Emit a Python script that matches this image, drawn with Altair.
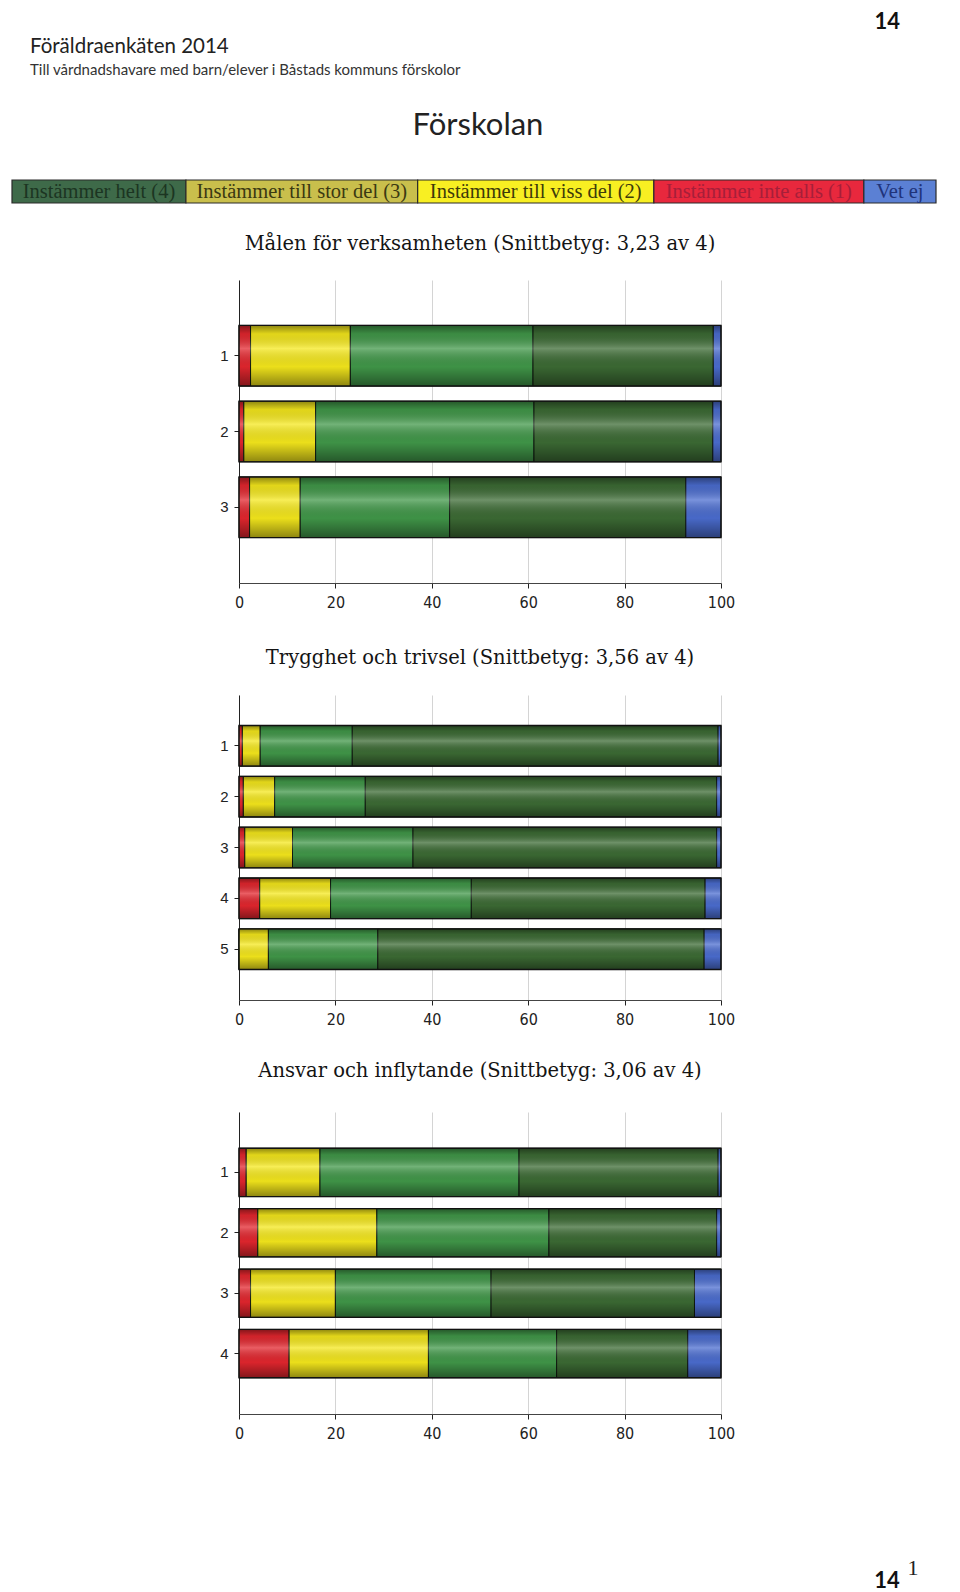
import altair as alt
import pandas as pd

# ---------------- text ----------------
page_no = "14"
footnote_no = "1"
doc_title = "Föräldraenkäten 2014"
doc_subtitle = "Till vårdnadshavare med barn/elever i Båstads kommuns förskolor"
section_title = "Förskolan"

# ---------------- categories ----------------
categories = ["Instämmer inte alls (1)", "Instämmer till viss del (2)",
              "Instämmer till stor del (3)", "Instämmer helt (4)", "Vet ej"]
bar_colors = ["#e3262e", "#f5e81c", "#419849", "#3c6b34", "#4b6dd0"]

legend_labels = ["Instämmer helt (4)", "Instämmer till stor del (3)",
                 "Instämmer till viss del (2)", "Instämmer inte alls (1)", "Vet ej"]
legend_fills = ["#3e6a49", "#c9bf4c", "#f8ef22", "#e8283d", "#5b80d4"]
legend_text_colors = ["#1c3522", "#3b3912", "#3d3a0a", "#a61f3a", "#20337a"]

# ---------------- chart 1 ----------------
maal_title = "Målen för verksamheten (Snittbetyg: 3,23 av 4)"
maal_rows = ["1", "2", "3"]
maal_inte = [2.4, 1.0, 2.2]
maal_viss = [20.7, 14.9, 10.5]
maal_stor = [37.9, 45.3, 31.0]
maal_helt = [37.4, 37.1, 49.0]
maal_vetej = [1.6, 1.7, 7.3]

# ---------------- chart 2 ----------------
tryg_title = "Trygghet och trivsel (Snittbetyg: 3,56 av 4)"
tryg_rows = ["1", "2", "3", "4", "5"]
tryg_inte = [0.7, 0.9, 1.2, 4.3, 0.0]
tryg_viss = [3.7, 6.5, 9.9, 14.7, 6.1]
tryg_stor = [19.1, 18.8, 25.0, 29.2, 22.7]
tryg_helt = [75.9, 72.9, 63.0, 48.5, 67.7]
tryg_vetej = [0.6, 0.9, 0.9, 3.3, 3.5]

# ---------------- chart 3 ----------------
ansv_title = "Ansvar och inflytande (Snittbetyg: 3,06 av 4)"
ansv_rows = ["1", "2", "3", "4"]
ansv_inte = [1.5, 3.9, 2.4, 10.4]
ansv_viss = [15.3, 24.7, 17.6, 28.9]
ansv_stor = [41.3, 35.7, 32.3, 26.6]
ansv_helt = [41.3, 34.8, 42.2, 27.2]
ansv_vetej = [0.6, 0.9, 5.5, 6.9]

x_ticks = [0, 20, 40, 60, 80, 100]

TITLE_FONT = "DejaVu Serif"
NARROW = "Liberation Sans Narrow, DejaVu Sans Condensed, Roboto Condensed, sans-serif"

shade = alt.LinearGradient(
    gradient="linear", x1=0, x2=0, y1=0, y2=1,
    stops=[
        alt.GradientStop(offset=0, color="rgba(0,0,0,0.42)"),
        alt.GradientStop(offset=0.14, color="rgba(0,0,0,0.08)"),
        alt.GradientStop(offset=0.38, color="rgba(255,255,255,0.26)"),
        alt.GradientStop(offset=0.68, color="rgba(0,0,0,0.04)"),
        alt.GradientStop(offset=1, color="rgba(0,0,0,0.42)"),
    ],
)


def bar_chart(title, rows, series, height, title_offset):
    recs = []
    for i, r in enumerate(rows):
        for k, (cat, vals) in enumerate(zip(categories, series)):
            recs.append({"row": r, "cat": cat, "k": k, "value": vals[i]})
    df = pd.DataFrame(recs)
    y = alt.Y("row:N", sort=rows,
              scale=alt.Scale(paddingInner=0.2, paddingOuter=0.6),
              axis=alt.Axis(title=None, labelFont="Liberation Sans", labelFontSize=15,
                            labelColor="#222", tickSize=5, labelPadding=6,
                            domainColor="#222", tickColor="#222", grid=False))
    xscale = alt.Scale(domain=[0, 100], nice=False)
    segs = alt.Chart(df).mark_bar(stroke="#101a10", strokeWidth=1).encode(
        x=alt.X("value:Q", stack="zero", scale=xscale,
                axis=alt.Axis(title=None, values=x_ticks, labelFont=NARROW,
                              labelFontSize=16, labelColor="#222", tickSize=5,
                              labelPadding=6, domainColor="#444", tickColor="#222",
                              grid=True, gridColor="#d4d4d4", gridWidth=1,
                              labelFlush=False)),
        y=y,
        color=alt.Color("cat:N", scale=alt.Scale(domain=categories, range=bar_colors),
                        legend=None),
        order=alt.Order("k:Q"),
    )
    over = alt.Chart(df).mark_bar(fill=shade, stroke="#111", strokeWidth=1.3).encode(
        x=alt.X("sum(value):Q", scale=xscale),
        y=y,
    )
    return alt.layer(segs, over).properties(
        width=482, height=height,
        title=alt.TitleParams(title, font=TITLE_FONT, fontSize=19.5, fontWeight="normal",
                              color="#141414", anchor="middle", offset=title_offset),
    )


c1 = bar_chart(maal_title, maal_rows,
               [maal_inte, maal_viss, maal_stor, maal_helt, maal_vetej], 303, 26)
c2 = bar_chart(tryg_title, tryg_rows,
               [tryg_inte, tryg_viss, tryg_stor, tryg_helt, tryg_vetej], 305, 27)
c3 = bar_chart(ansv_title, ansv_rows,
               [ansv_inte, ansv_viss, ansv_stor, ansv_helt, ansv_vetej], 302, 31)

# ---------------- header with legend strip ----------------
NARROW_CH = set("iltIj() fr")


def text_units(s):
    u = 0.0
    for ch in s:
        if ch == "m":
            u += 1.5
        elif ch in NARROW_CH:
            u += 0.55
        else:
            u += 1.0
    return u


widths = [10 * text_units(s) + 26.5 for s in legend_labels]
starts, mids, ends = [], [], []
acc = 0.0
for w in widths:
    starts.append(acc)
    mids.append(acc + w / 2)
    ends.append(acc + w)
    acc += w
leg_df = pd.DataFrame({"label": legend_labels, "fill": legend_fills,
                       "tcol": legend_text_colors, "start": starts,
                       "mid": mids, "end": ends})
leg_scale = alt.Scale(domain=[0, acc], range=[4, 928])

leg_rect = alt.Chart(leg_df).mark_rect(stroke="#2a2a2a", strokeWidth=1.2).encode(
    x=alt.X("start:Q", scale=leg_scale, axis=None),
    x2="end:Q",
    y=alt.value(172), y2=alt.value(195),
    fill=alt.Fill("fill:N", scale=None),
)
leg_text = alt.Chart(leg_df).mark_text(font="Liberation Serif", fontSize=20.5,
                                       baseline="middle", align="center").encode(
    x=alt.X("mid:Q", scale=leg_scale, axis=None),
    y=alt.value(184),
    text="label:N",
    color=alt.Color("tcol:N", scale=None),
)


def txt(s, x, y, **kw):
    return alt.Chart(pd.DataFrame({"t": [s]})).mark_text(**kw).encode(
        text="t:N", x=alt.value(x), y=alt.value(y))


h_title = txt(doc_title, 22, 39, font="Lato", fontSize=20.5, align="left",
              baseline="middle", color="#222")
h_sub = txt(doc_subtitle, 22, 62, font="Lato", fontSize=15, align="left",
            baseline="middle", color="#333")
h_sec = txt(section_title, 470, 118, font="Lato", fontSize=31, align="center",
            baseline="middle", color="#222")
h_page = txt(page_no, 892, 14, font="Lato", fontSize=22, fontWeight="bold",
             align="right", baseline="middle", color="#111")

header = alt.layer(leg_rect, leg_text, h_title, h_sub, h_sec, h_page).properties(
    width=944, height=160)

f_page = txt(page_no, 879, 55, font="Lato", fontSize=22, fontWeight="bold",
             align="center", baseline="middle", color="#111")
f_sup = txt(footnote_no, 905, 42, font="Liberation Serif", fontSize=22,
            align="center", baseline="middle", color="#222")
footer = alt.layer(f_page, f_sup).properties(width=944, height=62)

chart = alt.vconcat(header, c1, c2, c3, footer, spacing=112, center=True,
                    bounds="flush").resolve_scale(
    x="independent", y="independent", color="independent"
).properties(padding=0).configure_view(stroke=None)

chart.save("out.html", embed_options={"renderer": "svg", "actions": False})
